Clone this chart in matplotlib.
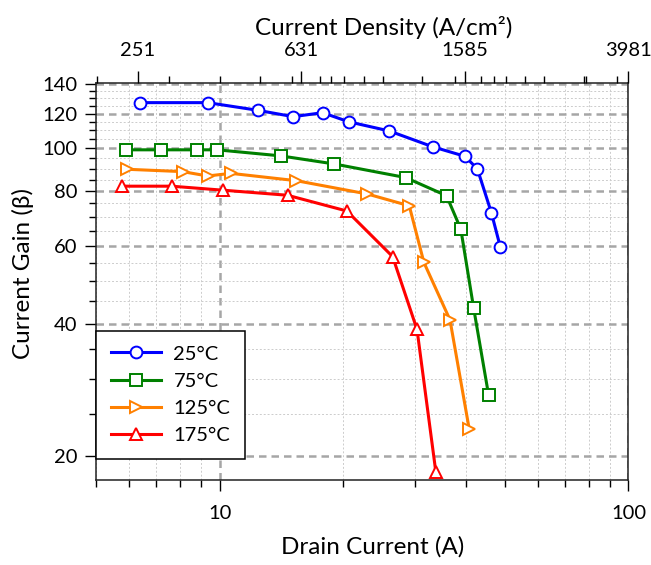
import matplotlib
matplotlib.use('Agg')
import matplotlib.pyplot as plt
from matplotlib.ticker import FixedLocator, NullFormatter, FixedFormatter, FuncFormatter, LogLocator

plt.rcParams['font.family'] = ['Lato', 'DejaVu Sans']

# ---- data ----
labels = ['25°C', '75°C', '125°C', '175°C']
colors = ['#0000FF', '#008000', '#FF8000', '#FF0000']
markers = ['o', 's', '>', '^']

i_25 = [6.40, 9.35, 12.41, 15.14, 17.86, 20.68, 26.0, 33.2, 39.8, 42.7, 46.2, 48.6]
b_25 = [127.1, 127.1, 122.1, 118.1, 120.6, 115.0, 109.6, 100.9, 96.0, 89.9, 71.5, 59.7]
i_75 = [5.91, 7.21, 8.79, 9.87, 14.12, 19.1, 28.5, 35.9, 38.9, 41.8, 45.5]
b_75 = [99.3, 99.3, 99.3, 99.3, 96.2, 92.2, 85.9, 78.1, 65.6, 43.5, 27.5]
i_125 = [5.93, 8.12, 9.35, 10.66, 15.4, 23.0, 29.1, 31.6, 36.6, 40.8]
b_125 = [89.7, 88.6, 86.6, 87.8, 84.5, 78.8, 74.1, 55.1, 40.8, 23.0]
i_175 = [5.77, 7.63, 10.19, 14.66, 20.48, 26.5, 30.4, 33.8]
b_175 = [82.1, 82.1, 80.4, 78.3, 72.1, 56.8, 38.8, 18.4]

series_i = [i_25, i_75, i_125, i_175]
series_b = [b_25, b_75, b_125, b_175]

y_major = [20, 40, 60, 80, 100, 120, 140]
y_minor = [25, 30, 35, 45, 50, 55, 65, 70, 75, 85, 90, 95, 105, 110, 115, 125, 130, 135]

density_exp = 1.6  # A/cm2 = A * 10**1.6
top_major_exp = [2.4, 2.8, 3.2, 3.6]
top_labels = ['251', '631', '1585', '3981']
top_minor = [200, 300, 400, 500, 600, 700, 746, 800, 900, 1000, 1243, 1500,
             1736, 1863, 2000, 2226, 2480, 3105, 3130, 3726]

xlim = (5, 100)
ylim = (17.7, 140.6)

# ---- figure ----
fig = plt.figure(figsize=(6.51, 5.65), dpi=100)
ax = fig.add_axes([0.1482, 0.1513, 0.8172, 0.7012])

ax.set_xscale('log')
ax.set_yscale('log')
ax.set_xlim(*xlim)
ax.set_ylim(*ylim)

ax.yaxis.set_major_locator(FixedLocator(y_major))
ax.yaxis.set_minor_locator(FixedLocator(y_minor))
ax.yaxis.set_major_formatter(FuncFormatter(lambda v, p: f'{v:g}'))
ax.yaxis.set_minor_formatter(NullFormatter())
ax.xaxis.set_major_locator(LogLocator(base=10))
ax.xaxis.set_minor_locator(LogLocator(base=10, subs=range(2, 10)))
ax.xaxis.set_major_formatter(FuncFormatter(lambda v, p: f'{v:g}'))
ax.xaxis.set_minor_formatter(NullFormatter())

ax.grid(which='major', color='#A6A6A6', lw=1.8, linestyle=(0, (3, 2)), zorder=0)
ax.grid(which='minor', color='#CCCCCC', lw=0.7, linestyle=(0, (2, 2)), zorder=0)
ax.set_axisbelow(True)

for xi, bi, lab, c, m in zip(series_i, series_b, labels, colors, markers):
    ax.plot(xi, bi, color=c, lw=2.2, marker=m, ms=8.5, mfc='white', mec=c,
            mew=1.4, label=lab, zorder=3)

ax.tick_params(which='major', length=7.7, width=1, labelsize=14.5, pad=6)
ax.tick_params(axis='x', which='major', pad=11)
ax.tick_params(which='minor', length=4.8, width=1)
for s in ax.spines.values():
    s.set_linewidth(1.1)
    s.set_color('#222222')

ax.set_xlabel('Drain Current (A)', fontsize=17.5, labelpad=10)
ax.xaxis.label.set_x(0.52)
ax.set_ylabel('Current Gain (β)', fontsize=17.5, labelpad=6)
ax.yaxis.label.set_y(0.52)

leg = ax.legend(loc='lower left', bbox_to_anchor=(0, 0.053), borderaxespad=0,
                fancybox=False, framealpha=1, edgecolor='black', fontsize=14.5,
                handlelength=2.5, handletextpad=0.6, labelspacing=0.5,
                borderpad=0.72)
leg.get_frame().set_linewidth(1.1)
leg.set_zorder(5)

# ---- top axis: current density ----
ax2 = ax.twiny()
ax2.set_xscale('log')
ax2.set_xlim(10 ** (0.69897 + density_exp), 10 ** (2 + density_exp))
ax2.xaxis.set_major_locator(FixedLocator([10 ** e for e in top_major_exp]))
ax2.xaxis.set_major_formatter(FixedFormatter(top_labels))
ax2.xaxis.set_minor_locator(FixedLocator(top_minor))
ax2.xaxis.set_minor_formatter(NullFormatter())
ax2.tick_params(which='major', length=8.5, width=1, labelsize=14.5, pad=9)
ax2.tick_params(which='minor', length=4.8, width=1)
ax2.set_xlabel('Current Density (A/cm²)', fontsize=17.5, labelpad=5)
ax2.xaxis.label.set_x(0.54)
for s in ax2.spines.values():
    s.set_visible(False)

fig.savefig('out.png', dpi=100)
